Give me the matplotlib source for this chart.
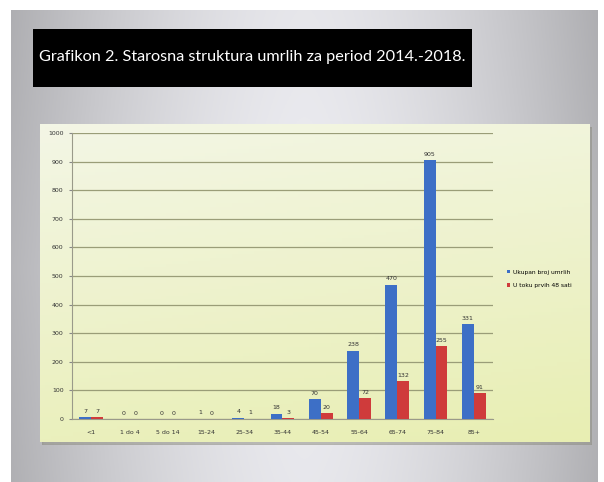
import numpy as np
import matplotlib
matplotlib.use("Agg")
import matplotlib.pyplot as plt
from matplotlib.patches import Rectangle

# Age groups and death counts
categories = ["<1", "1 do 4", "5 do 14", "15-24", "25-34", "35-44",
              "45-54", "55-64", "65-74", "75-84", "85+"]
total_deaths = [7, 0, 0, 1, 4, 18, 70, 238, 470, 905, 331]
within_48h = [7, 0, 0, 0, 1, 3, 20, 72, 132, 255, 91]
series_names = ["Ukupan broj umrlih", "U toku prvih 48 sati"]
title_text = "Grafikon 2. Starosna struktura umrlih za period 2014.-2018."
y_ticks = list(range(0, 1001, 100))

W, H = 604, 482
fig = plt.figure(figsize=(W / 100, H / 100), dpi=100)
fig.patch.set_facecolor("white")


def fx(px):
    return px / W


def fy(py):
    return 1 - py / H


# slide background with a soft grey gradient
bg = fig.add_axes([fx(11), 0, fx(598 - 11), (482 - 10) / H])
bg.set_axis_off()
yy, xx = np.mgrid[0:1:200j, 0:1:300j]
shade = 0.93 - 0.30 * np.abs(xx - 0.5) ** 1.6 * 2.2 - 0.05 * np.abs(yy - 0.55)
shade = np.clip(shade, 0.55, 0.95)
bg.imshow(np.dstack([shade, shade, shade * 1.02]).clip(0, 1), aspect="auto",
          extent=[0, 1, 0, 1])

# title bar
tb = fig.add_axes([fx(33), fy(87), fx(472 - 33), (87 - 29) / H])
tb.set_axis_off()
tb.add_patch(Rectangle((0, 0), 1, 1, transform=tb.transAxes, color="black"))
tb.text(0.5, 0.52, title_text, color="white", fontsize=11.7,
        family="Lato", ha="center", va="center", transform=tb.transAxes)

# chart panel with a pale yellow-green gradient
px0, py0, px1, py1 = 40, 124, 590, 442
sh = fig.add_axes([fx(px0 + 2), fy(py1 + 3), fx(px1 - px0), (py1 - py0) / H])
sh.set_axis_off()
sh.add_patch(Rectangle((0, 0), 1, 1, transform=sh.transAxes, color="#8c8c80", alpha=0.5))
panel = fig.add_axes([fx(px0), fy(py1), fx(px1 - px0), (py1 - py0) / H])
panel.set_axis_off()
gy, gx = np.mgrid[0:1:100j, 0:1:100j]
top = np.array([0.955, 0.965, 0.90])
bot = np.array([0.91, 0.935, 0.70])
t = (gy * 0.8 + gx * 0.2)[..., None]
grad = top * (1 - t) + bot * t
panel.imshow(grad, aspect="auto", extent=[0, 1, 0, 1])

# plot area
ax_l, ax_r, ax_t, ax_b = 72, 493, 133, 419
ax = fig.add_axes([fx(ax_l), fy(ax_b), fx(ax_r - ax_l), (ax_b - ax_t) / H])
ax.set_facecolor("none")
x = np.arange(len(categories))
bw = 0.31
blue, red = "#3d6fc6", "#cf3b3b"
b1 = ax.bar(x - bw / 2, total_deaths, bw, color=blue, label=series_names[0], zorder=3)
b2 = ax.bar(x + bw / 2, within_48h, bw, color=red, label=series_names[1], zorder=3)
for bars, vals in ((b1, total_deaths), (b2, within_48h)):
    for r, v in zip(bars, vals):
        ax.text(r.get_x() + r.get_width() / 2, v + 12, str(v), ha="center",
                va="bottom", fontsize=4.5, color="#333333", zorder=4)

ax.set_ylim(0, 1000)
ax.set_xlim(-0.5, len(categories) - 0.5)
ax.set_yticks(y_ticks)
ax.set_yticklabels([str(v) for v in y_ticks], fontsize=4.5, color="#333333")
ax.set_xticks(x)
ax.set_xticklabels(categories, fontsize=4.5, color="#333333")
ax.tick_params(axis="both", length=2, color="#888888", pad=4)
ax.tick_params(axis="x", length=0, pad=8)
ax.grid(axis="y", color="#9a9d78", linewidth=0.9, zorder=0)
for s in ("top", "right"):
    ax.spines[s].set_visible(False)
ax.spines["left"].set_color("#9a9a8a")
ax.spines["bottom"].set_color("#9a9a8a")

leg = ax.legend(loc="center left", bbox_to_anchor=(1.02, 0.49), frameon=False,
                fontsize=4.3, handlelength=0.6, handleheight=0.6,
                handletextpad=0.4, labelspacing=1.4)

fig.savefig("out.png", dpi=100)
